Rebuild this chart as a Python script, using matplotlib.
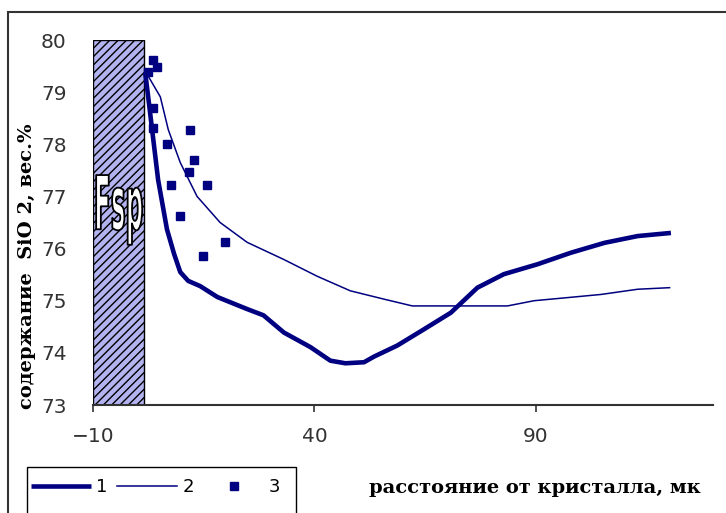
import matplotlib
matplotlib.use("Agg")
import matplotlib.pyplot as plt
from matplotlib import patheffects
from matplotlib.patches import Rectangle
from matplotlib.transforms import Affine2D

# curve 1 (thick), curve 2 (thin), points 3
thick_x = [1.8, 2.9, 4.7, 6.7, 8.3, 9.7, 11.5, 14.2, 18.1, 24.8, 28.5, 33.1, 39.1,
           43.6, 47.0, 51.2, 53.5, 58.7, 64.7, 70.8, 76.8, 82.8, 90.4, 97.9,
           105.5, 113.0, 120.5]
thick_y = [79.37, 78.6, 77.32, 76.37, 75.9, 75.55, 75.38, 75.28, 75.07, 74.84,
           74.72, 74.39, 74.11, 73.85, 73.8, 73.82, 73.93, 74.14, 74.45, 74.77,
           75.25, 75.51, 75.70, 75.92, 76.11, 76.24, 76.30]

thin_x = [2.1, 5.2, 7.0, 9.7, 13.5, 18.7, 24.8, 33.1, 40.6, 48.1, 55.7, 62.1,
          72.0, 83.6, 89.6, 97.2, 104.7, 113.0, 120.2]
thin_y = [79.36, 78.91, 78.28, 77.65, 77.0, 76.50, 76.12, 75.79, 75.47, 75.19,
          75.03, 74.90, 74.90, 74.90, 75.0, 75.06, 75.12, 75.22, 75.25]

pts_x = [3.6, 4.5, 2.5, 3.5, 3.6, 11.8, 6.8, 12.9, 11.6, 7.6, 15.7, 9.7, 19.9, 14.8]
pts_y = [79.62, 79.48, 79.39, 78.69, 78.32, 78.28, 78.01, 77.69, 77.46, 77.21,
         77.21, 76.63, 76.12, 75.86]

fsp_left = -10
fsp_right = 1.5
fsp_bottom = 73
fsp_top = 80

x_ticks = [-10, 40, 90]
y_ticks = [73, 74, 75, 76, 77, 78, 79, 80]
legend_labels = ["1", "2", "3"]
xlabel = "расстояние от кристалла, мк"
ylabel = "содержание  SiO 2, вес.%"

navy = "#000080"


class StretchedOutline(patheffects.AbstractPathEffect):
    """draws glyphs stretched about the baseline, white fill + dark outline"""

    def __init__(self, sx, sy, edge="black", lw=1.0):
        super().__init__()
        self.sx = sx
        self.sy = sy
        self.edge = edge
        self.lw = lw

    def draw_path(self, renderer, gc, tpath, affine, rgbFace=None):
        gc0 = renderer.new_gc()
        gc0.copy_properties(gc)
        gc0.set_linewidth(self.lw)
        gc0.set_foreground(self.edge)
        aff = Affine2D().scale(self.sx, self.sy) + affine
        renderer.draw_path(gc0, tpath, aff, rgbFace)
        gc0.restore()


plt.rcParams["font.family"] = "DejaVu Sans"
plt.rcParams["hatch.linewidth"] = 1.0

fig = plt.figure(figsize=(7.26, 5.13), dpi=100)
ax = fig.add_axes([93 / 726, 108 / 513, 620 / 726, 365 / 513])

ax.bar([fsp_left], [fsp_top - fsp_bottom], bottom=fsp_bottom,
       width=fsp_right - fsp_left, align="edge", color="#b3b3f0",
       edgecolor="black", linewidth=1.0, hatch="////", zorder=1)

ax.text(-9.8, 76.37, "Fsp", color="white", fontsize=21, fontweight="bold",
        ha="left", va="baseline", zorder=3,
        path_effects=[StretchedOutline(0.85, 2.55, lw=1.3)])

l1, = ax.plot(thick_x, thick_y, color=navy, lw=3.3, solid_capstyle="butt",
              solid_joinstyle="round", zorder=4)
l2, = ax.plot(thin_x, thin_y, color=navy, lw=1.1, zorder=4)
l3, = ax.plot(pts_x, pts_y, "s", color=navy, ms=5.5, zorder=5)

ax.set_xlim(-10, 130)
ax.set_ylim(73, 80)
ax.set_xticks(x_ticks)
ax.set_yticks(y_ticks)

for s in ["left", "top", "right"]:
    ax.spines[s].set_visible(False)
ax.spines["bottom"].set_color("#333333")
ax.spines["bottom"].set_linewidth(1.5)

ax.tick_params(axis="x", direction="out", length=5, width=1.2, color="#333333",
               labelsize=14.5, pad=11, labelcolor="#333333")
ax.tick_params(axis="y", length=0, labelsize=14.5, pad=19, labelcolor="#333333")

# outer chart frame (cut by the picture at right and bottom)
fig.patches.append(Rectangle((8 / 726, -0.5), 2, 1.5 - 12 / 513,
                             transform=fig.transFigure, fill=False,
                             edgecolor="#333333", lw=1.5))
# legend box, also running off the bottom
fig.patches.append(Rectangle((27 / 726, -0.2), 269 / 726, 0.2 + 46 / 513,
                             transform=fig.transFigure, facecolor="white",
                             edgecolor="black", lw=1.0))

fig.legend([l1, l2, l3], legend_labels, ncol=3, loc="upper left",
           bbox_to_anchor=(31 / 726, 1 - 478 / 513), frameon=False,
           fontsize=13, handlelength=3.3, handletextpad=0.3,
           columnspacing=0.55, borderpad=0, borderaxespad=0, numpoints=1)

fig.text(535 / 726, 1 - 488 / 513, xlabel, ha="center", va="center",
         family="DejaVu Serif", fontweight="bold", fontsize=14)
fig.text(27 / 726, 1 - 266 / 513, ylabel, ha="center", va="center", rotation=90,
         family="DejaVu Serif", fontweight="bold", fontsize=14)

fig.savefig("out.png", dpi=100)
